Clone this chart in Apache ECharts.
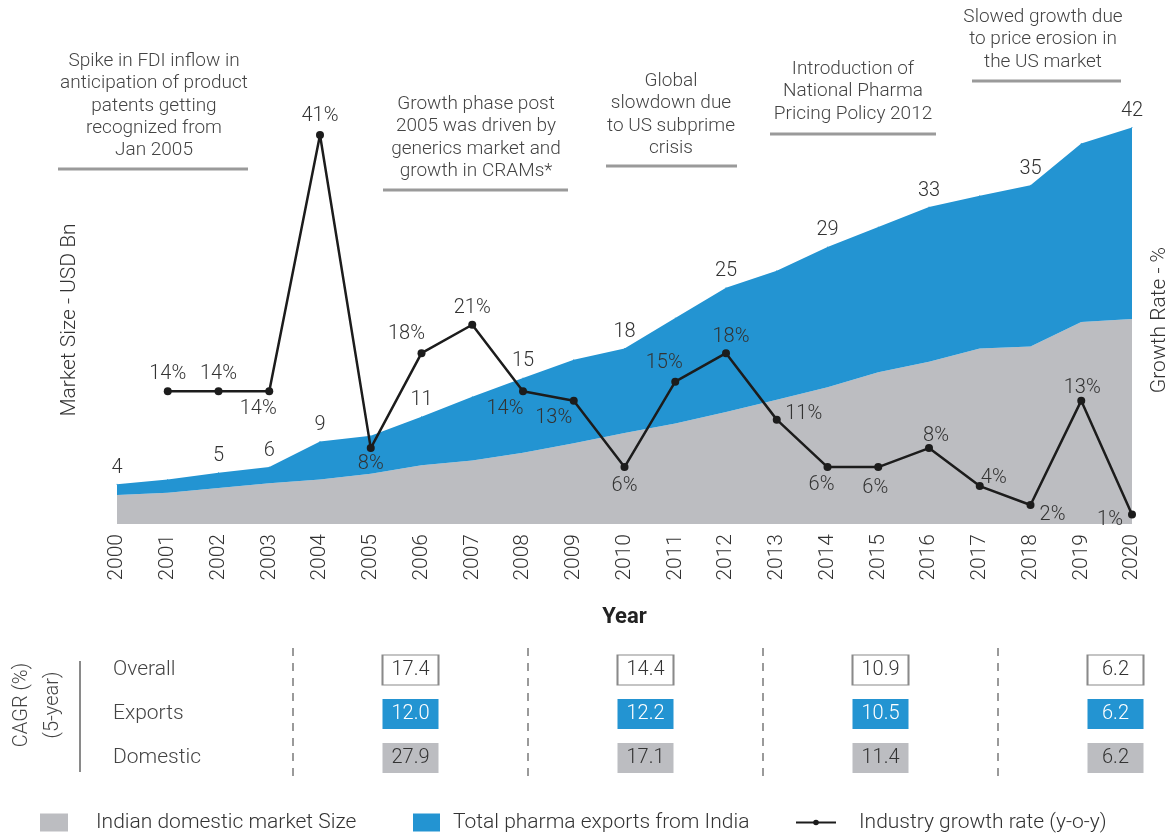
<!DOCTYPE html>
<html>
<head>
<meta charset="utf-8">
<title>Indian pharma market</title>
<script src="https://cdn.jsdelivr.net/npm/echarts@6/dist/echarts.min.js"></script>
<style>
  html, body { margin: 0; padding: 0; background: #fff; }
  #chart { width: 1168px; height: 834px; }
</style>
</head>
<body>
<div id="chart"></div>
<script>
// chart data
const years = ['2000', '2001', '2002', '2003', '2004', '2005', '2006', '2007', '2008', '2009', '2010',
  '2011', '2012', '2013', '2014', '2015', '2016', '2017', '2018', '2019', '2020']
const domesticBn = [3.05, 3.3, 3.8, 4.3, 4.7, 5.3, 6.2, 6.7, 7.5, 8.5, 9.6,
  10.6, 11.8, 13.1, 14.4, 16.0, 17.1, 18.5, 18.7, 21.3, 21.6]
const exportsBn = [1.15, 1.4, 1.6, 1.7, 4.0, 4.0, 5.1, 6.7, 7.9, 8.8, 8.9,
  11.1, 13.1, 13.6, 14.8, 15.3, 16.3, 16.1, 17.0, 18.8, 20.2]
const marketSizeLabels = [4, null, 5, 6, 9, null, 11, null, 15, null, 18,
  null, 25, null, 29, null, 33, null, 35, null, 42]
const growthRate = [null, 14, 14, 14, 41, 8, 18, 21, 14, 13, 6,
  15, 18, 11, 6, 6, 8, 4, 2, 13, 1]

const cagrPeriods = ['2000-05', '2005-10', '2010-15', '2015-20']
const cagrRows = ['Overall', 'Exports', 'Domestic']
const cagrOverall = [17.4, 14.4, 10.9, 6.2]
const cagrExports = [12.0, 12.2, 10.5, 6.2]
const cagrDomestic = [27.9, 17.1, 11.4, 6.2]

const notes = [
  'Spike in FDI inflow in\nanticipation of product\npatents getting\nrecognized from\nJan 2005',
  'Growth phase post\n2005 was driven by\ngenerics market and\ngrowth in CRAMs*',
  'Global\nslowdown due\nto US subprime\ncrisis',
  'Introduction of\nNational Pharma\nPricing Policy 2012',
  'Slowed growth due\nto price erosion in\nthe US market'
]

// styling
const GRAY = '#bcbdc1'
const BLUE = '#2394d2'
const INK = '#333'
const FONT = 'Roboto'

// where each note sits: centre x, top y, underline from/to and its y
const noteBoxes = [
  { cx: 154, top: 50, x1: 58, x2: 248, ly: 169 },
  { cx: 476, top: 93, x1: 383, x2: 568, ly: 190 },
  { cx: 671, top: 70, x1: 606, x2: 737, ly: 166 },
  { cx: 853, top: 58, x1: 770, x2: 936, ly: 134 },
  { cx: 1043, top: 6, x1: 972, x2: 1121, ly: 81 }
]

// label offset (dx, dy) of each growth-rate label from its point
const growthLabelOffsets = [
  null, [0, -17], [0, -17], [-11, 18], [0, -19], [0, 16], [-15, -19], [0, -17], [-18, 18], [-20, 17], [0, 19],
  [-11, -19], [5, -16], [27, -6], [-6, 18], [-3, 21], [7, -12], [14, -8], [22, 10], [1, -13], [-22, 5]
]

const chart = echarts.init(document.getElementById('chart'))

const graphics = []
notes.forEach((text, i) => {
  const b = noteBoxes[i]
  graphics.push({
    type: 'text',
    x: b.cx,
    y: b.top,
    style: {
      text, align: 'center', verticalAlign: 'top',
      fontFamily: FONT, fontWeight: 300, fontSize: 19, lineHeight: 22.3, fill: '#444'
    }
  })
  graphics.push({
    type: 'line',
    shape: { x1: b.x1, y1: b.ly, x2: b.x2, y2: b.ly },
    style: { stroke: '#9a9a9a', lineWidth: 3 }
  })
})
graphics.push({
  type: 'text',
  x: 37,
  y: 705,
  rotation: Math.PI / 2,
  style: {
    text: 'CAGR (%)\n(5-year)', align: 'center', verticalAlign: 'middle',
    fontFamily: FONT, fontWeight: 300, fontSize: 20, lineHeight: 31, fill: '#444'
  }
})
graphics.push({
  type: 'line',
  shape: { x1: 80, y1: 661, x2: 80, y2: 772 },
  style: { stroke: '#8a8a8a', lineWidth: 2 }
})

const boxSeries = (name, values, rowIdx, fill, textColor, border) => ({
  name,
  type: 'scatter',
  xAxisIndex: 1,
  yAxisIndex: 2,
  symbol: 'rect',
  symbolSize: [56, 30],
  itemStyle: { color: fill, borderColor: border || fill, borderWidth: border ? 1.5 : 0, opacity: 1 },
  label: {
    show: true,
    position: 'inside',
    fontFamily: FONT,
    fontWeight: 300,
    fontSize: 20,
    color: textColor,
    formatter: (p) => p.value[2].toFixed(1)
  },
  emphasis: { disabled: true },
  data: values.map((v, i) => [cagrPeriods[i], cagrRows[rowIdx], v])
})

const option = {
  animation: false,
  textStyle: { fontFamily: FONT },
  graphic: graphics,
  legend: [
    {
      data: ['Indian domestic market Size'],
      left: 40, top: 812, padding: 0,
      icon: 'rect', itemWidth: 28, itemHeight: 18,
      textStyle: { fontSize: 21, fontWeight: 300, color: INK, padding: [0, 0, 0, 23] }
    },
    {
      data: ['Total pharma exports from India'],
      left: 413, top: 812, padding: 0,
      icon: 'rect', itemWidth: 27, itemHeight: 18,
      textStyle: { fontSize: 21, fontWeight: 300, color: INK, padding: [0, 0, 0, 8] }
    },
    {
      data: ['Industry growth rate (y-o-y)'],
      left: 795, top: 812, padding: 0,
      itemWidth: 40, itemHeight: 7,
      textStyle: { fontSize: 21, fontWeight: 300, color: INK, padding: [0, 0, 0, 18] }
    }
  ],
  grid: [
    { left: 117, right: 36, top: 116, bottom: 310, outerBoundsMode: 'none' },
    { left: 293, width: 940, top: 648, height: 132, outerBoundsMode: 'none' }
  ],
  xAxis: [
    {
      type: 'category',
      gridIndex: 0,
      data: years,
      boundaryGap: false,
      axisLine: { show: false },
      axisTick: { show: false },
      axisLabel: { rotate: 90, fontSize: 21, fontWeight: 300, color: INK, margin: 10 },
      name: 'Year',
      nameLocation: 'middle',
      nameGap: 82,
      nameTextStyle: { fontSize: 22, fontWeight: 'bold', color: '#222' }
    },
    {
      type: 'category',
      gridIndex: 1,
      data: cagrPeriods,
      axisLine: { show: false },
      axisTick: { show: false },
      axisLabel: { show: false },
      splitLine: { show: true, interval: 0, lineStyle: { color: '#9a9a9a', width: 2, type: [8, 7] } }
    }
  ],
  yAxis: [
    {
      type: 'value',
      gridIndex: 0,
      min: 0,
      max: 43,
      axisLine: { show: false },
      axisTick: { show: false },
      axisLabel: { show: false },
      splitLine: { show: false },
      name: 'Market Size - USD Bn',
      nameLocation: 'middle',
      nameRotate: 90,
      nameGap: 37,
      nameTextStyle: { fontSize: 21, fontWeight: 300, color: INK }
    },
    {
      type: 'value',
      gridIndex: 0,
      position: 'right',
      min: 0,
      max: 43,
      axisLine: { show: false },
      axisTick: { show: false },
      axisLabel: { show: false },
      splitLine: { show: false },
      name: 'Growth Rate - %',
      nameLocation: 'middle',
      nameRotate: 90,
      nameGap: 17,
      nameTextStyle: { fontSize: 21, fontWeight: 300, color: INK }
    },
    {
      type: 'category',
      gridIndex: 1,
      data: cagrRows,
      inverse: true,
      axisLine: { show: false },
      axisTick: { show: false },
      splitLine: { show: false },
      axisLabel: { align: 'left', margin: 180, fontSize: 21, fontWeight: 300, color: '#444' }
    }
  ],
  series: [
    {
      name: 'Indian domestic market Size',
      type: 'line',
      stack: 'total',
      xAxisIndex: 0,
      yAxisIndex: 0,
      symbol: 'none',
      color: GRAY,
      lineStyle: { width: 0 },
      areaStyle: { color: GRAY, opacity: 1 },
      emphasis: { disabled: true },
      data: domesticBn
    },
    {
      name: 'Total pharma exports from India',
      type: 'line',
      stack: 'total',
      xAxisIndex: 0,
      yAxisIndex: 0,
      symbol: 'circle',
      symbolSize: 1,
      showAllSymbol: true,
      color: BLUE,
      lineStyle: { width: 0 },
      areaStyle: { color: BLUE, opacity: 1 },
      label: {
        show: true,
        position: 'top',
        distance: 6,
        fontSize: 20,
        fontWeight: 300,
        color: INK,
        formatter: (p) => (marketSizeLabels[p.dataIndex] == null ? '' : String(marketSizeLabels[p.dataIndex]))
      },
      emphasis: { disabled: true },
      data: exportsBn
    },
    {
      name: 'Industry growth rate (y-o-y)',
      type: 'line',
      xAxisIndex: 0,
      yAxisIndex: 1,
      z: 5,
      symbol: 'circle',
      symbolSize: 8,
      showAllSymbol: true,
      color: '#1c1c1c',
      lineStyle: { width: 2.5, color: '#1c1c1c' },
      emphasis: { disabled: true },
      data: growthRate.map((v, i) => v == null ? '-' : {
        value: v,
        label: {
          show: true,
          position: 'inside',
          offset: growthLabelOffsets[i],
          fontSize: 20,
          fontWeight: 300,
          color: INK,
          formatter: '{c}%'
        }
      })
    },
    boxSeries('Overall CAGR', cagrOverall, 0, '#fff', INK, '#8a8a8a'),
    boxSeries('Exports CAGR', cagrExports, 1, BLUE, '#fff'),
    boxSeries('Domestic CAGR', cagrDomestic, 2, GRAY, INK)
  ]
}

chart.setOption(option)
</script>
</body>
</html>
